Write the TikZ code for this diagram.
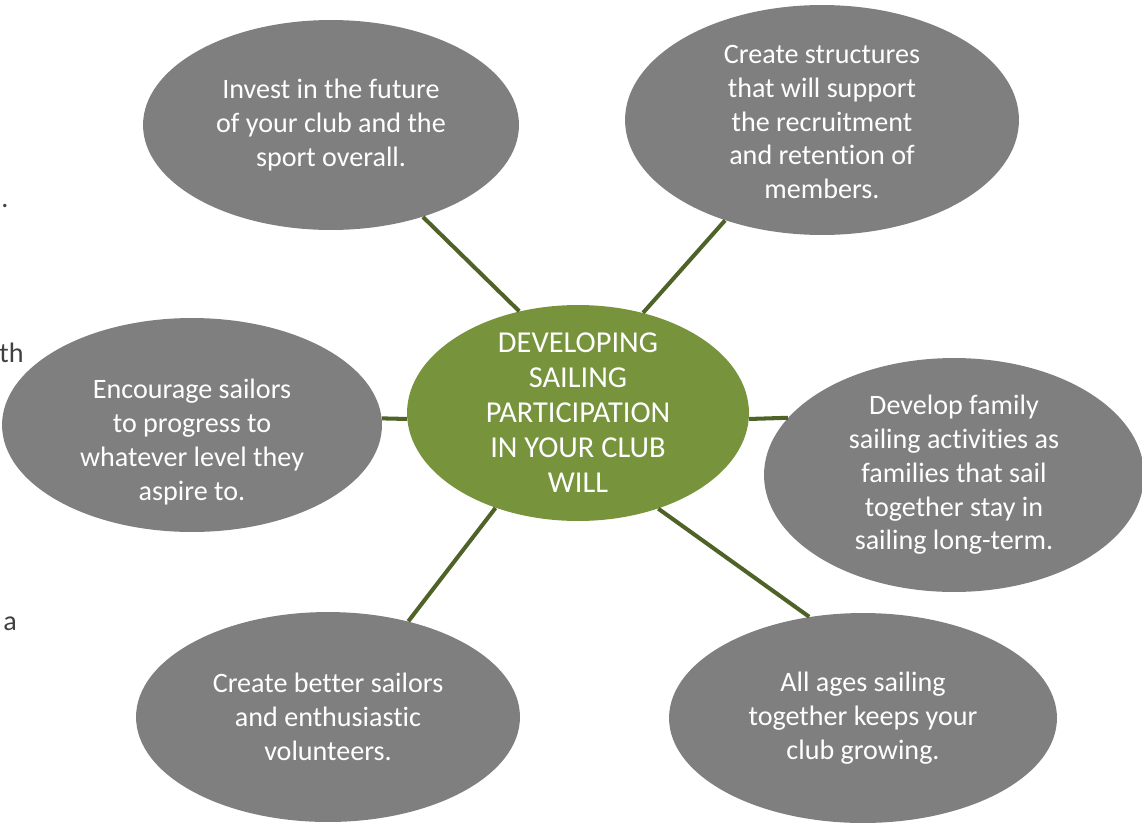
\documentclass[tikz,border=0pt]{standalone}
\usepackage{fontspec}
\setmainfont[Ligatures={NoCommon,NoContextual}]{Carlito}
\usetikzlibrary{shapes.geometric}

\definecolor{bubblegray}{HTML}{7F7F7F}
\definecolor{hubgreen}{HTML}{77933C}
\definecolor{spokegreen}{HTML}{4F6228}
\definecolor{pagetext}{HTML}{404040}

\tikzset{
  bubble/.style={ellipse,fill=bubblegray,inner sep=0pt},
  hub/.style={ellipse,fill=hubgreen,inner sep=0pt},
  words/.style={text=white,align=center,inner sep=0pt,
    font=\fontsize{16}{19.2}\selectfont},
  spoke/.style={draw=spokegreen,line width=2.3pt},
  margin/.style={text=pagetext,anchor=base west,inner sep=0pt,
    font=\fontsize{16}{19.2}\selectfont}
}

\begin{document}
\begin{tikzpicture}[x=0.02cm,y=-0.02cm]
\useasboundingbox (0,0) rectangle (1142,825);

% bits of the page text
\node[margin] (dot) at (1,207) {.};
\node[margin] (th) at (-1,362) {th};
\node[margin] (art) at (3,630) {a};

% the hub
\node[hub,minimum width=6.84cm,minimum height=4.32cm] (hub) at (578,413) {};
\node[words,font=\fontsize{17.3}{19.9}\selectfont] (hubtext) at (hub) {DEVELOPING\\SAILING\\PARTICIPATION\\IN YOUR CLUB\\WILL};

% the bubbles round it
\node[bubble,minimum width=7.52cm,minimum height=4.2cm] (invest) at (331,125) {};
\node[words] (investtext) at (invest) {Invest in the future\\of your club and the\\sport overall.};

\node[bubble,minimum width=7.88cm,minimum height=4.6cm] (structures) at (822,120) {};
\node[words] (structurestext) at (822,122) {Create structures\\that will support\\the recruitment\\and retention of\\members.};

\node[bubble,minimum width=7.6cm,minimum height=4.28cm] (encourage) at (192,425) {};
\node[words] (encouragetext) at (192,442) {Encourage sailors\\to progress to\\whatever level they\\aspire to.};

\node[bubble,minimum width=7.6cm,minimum height=4.68cm] (family) at (954,475) {};
\node[words] (familytext) at (family) {Develop family\\sailing activities as\\families that sail\\together stay in\\sailing long-term.};

\node[bubble,minimum width=7.68cm,minimum height=4.2cm] (better) at (328,717) {};
\node[words] (bettertext) at (better) {Create better sailors\\and enthusiastic\\volunteers.};

\node[bubble,minimum width=7.76cm,minimum height=4.2cm] (ages) at (863,718) {};
\node[words] (agestext) at (ages) {All ages sailing\\together keeps your\\club growing.};

% spokes
\draw[spoke] (invest.-45) -- (hub.120);
\draw[spoke] (structures.-134) -- (hub.57);
\draw[spoke] (encourage.2) -- (hub.182);
\draw[spoke] (hub.-2) -- (family.161);
\draw[spoke] (better.50) -- (hub.-131);
\draw[spoke] (hub.-50) -- (ages.118);

\end{tikzpicture}
\end{document}
